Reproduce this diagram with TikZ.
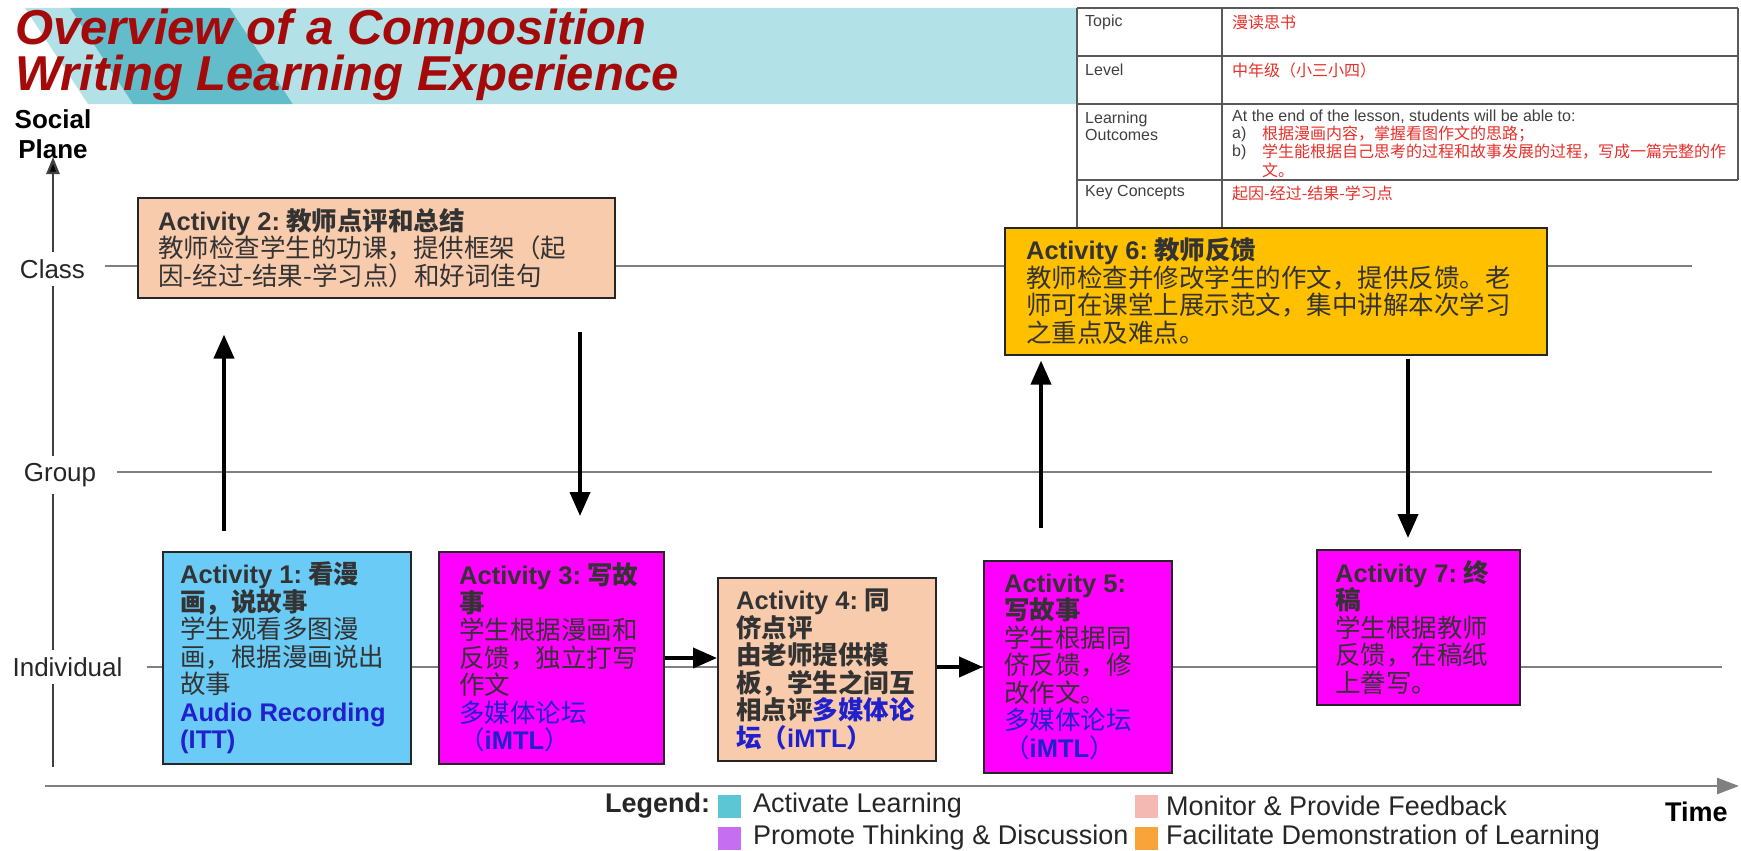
\documentclass[tikz,border=0pt]{standalone}
\usepackage{fontspec}
\usepackage{graphicx}
\setmainfont{Liberation Sans}
\newfontfamily\cjk{Noto Sans CJK SC}
\usetikzlibrary{arrows.meta}
\newcommand\zh[1]{{\cjk #1}}
\definecolor{peach}{HTML}{F8CBAD}
\definecolor{amber}{HTML}{FFC000}
\definecolor{skyb}{HTML}{6ACBF7}
\definecolor{mag}{HTML}{FF00FF}
\definecolor{linkblue}{HTML}{2020CC}
\definecolor{titlered}{HTML}{A50A0A}
\definecolor{tabred}{HTML}{E8302A}
\definecolor{bandlight}{HTML}{B2E2E8}
\definecolor{banddark}{HTML}{62BCC9}
\definecolor{lgcyan}{HTML}{5CC6D4}
\definecolor{lgpink}{HTML}{F4B9B2}
\definecolor{lgpurple}{HTML}{C56EF2}
\definecolor{lgorange}{HTML}{F9A43B}
\begin{document}
\begin{tikzpicture}[x=1pt,y=-1pt,
  actbox/.style={draw=black!85, line width=1.6pt, anchor=north west, inner sep=0pt},
  acttxt/.style={anchor=west, align=left, inner sep=0pt,
    font=\fontsize{25.5}{27.5}\selectfont, text=black!80},
  arr/.style={line width=4pt, -{Triangle[length=24pt,width=20pt]}},
  level/.style={draw=black!50, line width=1.8pt},
  axlabel/.style={font=\fontsize{26}{30}\selectfont, text=black!85, fill=white, inner xsep=2pt, inner ysep=7pt},
  tabline/.style={draw=black!65, line width=1.2pt},
  tabtxt/.style={anchor=west, inner sep=0pt, font=\fontsize{16}{17.5}\selectfont, text=black!75, align=left},
  tabzh/.style={anchor=west, inner sep=0pt, font=\fontsize{16}{17.5}\selectfont\cjk, text=tabred},
  lgsq/.style={minimum width=23pt, minimum height=23pt, inner sep=0pt},
  lgtxt/.style={anchor=west, inner sep=0pt, font=\fontsize{27}{30}\selectfont, text=black!85},
  titletxt/.style={anchor=base west, inner sep=0pt, font=\fontsize{49}{55}\selectfont\bfseries\itshape, text=titlered}
]
\useasboundingbox (0,0) rectangle (1741,851);
\fill[white] (0,0) rectangle (1741,851);

% banner
\fill[bandlight] (25,8) -- (70,8) -- (133,104) -- (88,104) -- cycle;
\fill[banddark] (70,8) -- (230,8) -- (293,104) -- (133,104) -- cycle;
\fill[bandlight] (230,8) -- (1077,8) -- (1077,104) -- (293,104) -- cycle;
\node[titletxt] (t1) at (15,45) {Overview of a Composition};
\node[titletxt] (t2) at (15,91) {Writing Learning Experience};

% table
\draw[tabline] (1077,8) -- (1738,8);
\draw[tabline] (1077,56) -- (1738,56);
\draw[tabline] (1077,104) -- (1738,104);
\draw[tabline] (1077,180) -- (1738,180);
\draw[tabline] (1077,8) -- (1077,228);
\draw[tabline] (1222,8) -- (1222,228);
\draw[tabline] (1738,8) -- (1738,180);
\node[tabtxt] (tk1) at (1085,22) {Topic};
\node[tabzh] (tv1) at (1232,22) {漫读思书};
\node[tabtxt] (tk2) at (1085,70) {Level};
\node[tabzh] (tv2) at (1232,70) {中年级（小三小四）};
\node[tabtxt] (tk3) at (1085,126.5) {Learning\\Outcomes};
\node[tabtxt] (tv3) at (1232,117) {At the end of the lesson, students will be able to:};
\node[tabtxt] (tv3a) at (1232,134) {a)};
\node[tabzh] (tv3az) at (1262,134) {根据漫画内容，掌握看图作文的思路；};
\node[tabtxt] (tv3b) at (1232,152) {b)};
\node[tabzh] (tv3bz) at (1262,152) {学生能根据自己思考的过程和故事发展的过程，写成一篇完整的作};
\node[tabzh] (tv3bz2) at (1262,170) {文。};
\node[tabtxt] (tk4) at (1085,193) {Key Concepts};
\node[tabzh] (tv4) at (1232,193) {起因-经过-结果-学习点};

% social plane axis
\node[align=center, inner sep=0pt, font=\fontsize{26}{30}\selectfont\bfseries] (sp) at (53,134) {Social\\Plane};
\coordinate (axbot) at (53,767);
\coordinate (axtop) at (53,157);
\draw[draw=black!75, line width=2.5pt, -{Triangle[length=17pt,width=13pt,fill=black]}] (axbot) -- (axtop);
\coordinate (tl) at (45,786);
\coordinate (tr) at (1739,786);
\draw[draw=black!50, line width=2.5pt, -{Triangle[length=22pt,width=16pt]}] (tl) -- (tr);
\node[anchor=west, inner sep=0pt, font=\fontsize{27}{30}\selectfont\bfseries] (time) at (1665,812) {Time};

% levels
\node[axlabel] (lclass) at (52.5,269) {Class};
\node[axlabel] (lgroup) at (60,475) {Group};
\node[axlabel] (lind) at (67.5,667) {Individual};
\coordinate (cend) at (1692,266);
\coordinate (gend) at (1712,472);
\coordinate (iend) at (1722,667);
\draw[level] ([xshift=18pt]lclass.east |- cend) -- (cend);
\draw[level] ([xshift=19pt]lgroup.east |- gend) -- (gend);
\draw[level] ([xshift=22pt]lind.east |- iend) -- (iend);

% activities
\node[actbox, fill=peach, minimum width=477pt, minimum height=100pt] (a2) at (137,197) {};
\node[acttxt] (a2t) at ([xshift=21pt]a2.west)
{\textbf{Activity 2:\hspace{6pt}\zh{教师点评和总结}}\\
\zh{教师检查学生的功课，提供框架（起}\\
\zh{因-经过-结果-学习点）和好词佳句}};

\node[actbox, fill=amber, minimum width=542pt, minimum height=127pt] (a6) at (1004,227) {};
\node[acttxt] (a6t) at ([xshift=22pt]a6.west)
{\textbf{Activity 6:\hspace{6pt}\zh{教师反馈}}\\
\zh{教师检查并修改学生的作文，提供反馈。老}\\
\zh{师可在课堂上展示范文，集中讲解本次学习}\\
\zh{之重点及难点。}};

\node[actbox, fill=skyb, minimum width=248pt, minimum height=212pt] (a1) at (162,551) {};
\node[acttxt] (a1t) at ([xshift=18pt]a1.west)
{\textbf{Activity 1:\hspace{6pt}\zh{看漫}}\\
\textbf{\zh{画，说故事}}\\
\zh{学生观看多图漫}\\
\zh{画，根据漫画说出}\\
\zh{故事}\\
\textcolor{linkblue}{\textbf{Audio Recording}}\\
\textcolor{linkblue}{\textbf{(ITT)}}};

\node[actbox, fill=mag, minimum width=225pt, minimum height=212pt] (a3) at (438,551) {};
\node[acttxt] (a3t) at ([xshift=21pt]a3.west)
{\textbf{Activity 3:\hspace{6pt}\zh{写故}}\\
\textbf{\zh{事}}\\
\zh{学生根据漫画和}\\
\zh{反馈，独立打写}\\
\zh{作文}\\
\textcolor{linkblue}{\zh{多媒体论坛}}\\
\textcolor{linkblue}{\zh{（}\textbf{iMTL}\zh{）}}};

\node[actbox, fill=peach, minimum width=218pt, minimum height=183pt] (a4) at (717,577) {};
\node[acttxt] (a4t) at ([xshift=19pt]a4.west)
{\textbf{Activity 4:\hspace{6pt}\zh{同}}\\
\textbf{\zh{侪点评}}\\
\textbf{\zh{由老师提供模}}\\
\textbf{\zh{板，学生之间互}}\\
\textbf{\zh{相点评}\textcolor{linkblue}{\zh{多媒体论}}}\\
\textcolor{linkblue}{\textbf{\zh{坛（}iMTL\zh{）}}}};

\node[actbox, fill=mag, minimum width=188pt, minimum height=212pt] (a5) at (983,560) {};
\node[acttxt] (a5t) at ([xshift=21pt]a5.west)
{\textbf{Activity 5:}\\
\textbf{\zh{写故事}}\\
\zh{学生根据同}\\
\zh{侪反馈，修}\\
\zh{改作文。}\\
\textcolor{linkblue}{\zh{多媒体论坛}}\\
\textcolor{linkblue}{\zh{（}\textbf{iMTL}\zh{）}}};

\node[actbox, fill=mag, minimum width=203pt, minimum height=155pt] (a7) at (1316,549) {};
\node[acttxt] (a7t) at ([xshift=19pt]a7.west)
{\textbf{Activity 7:\hspace{6pt}\zh{终}}\\
\textbf{\zh{稿}}\\
\zh{学生根据教师}\\
\zh{反馈，在稿纸}\\
\zh{上誊写。}};

% arrows
\coordinate (x12) at (224,0);
\coordinate (x23) at (580,0);
\coordinate (y34) at (0,658);
\coordinate (y45) at (0,667);
\coordinate (x56) at (1041,0);
\coordinate (x67) at (1408,0);
\draw[arr, shorten <=20pt, shorten >=36pt] (a1.north -| x12) -- (a2.south -| x12);
\draw[arr, shorten <=33pt, shorten >=35pt] (a2.south -| x23) -- (a3.north -| x23);
\draw[arr] (a3.east |- y34) -- (a4.west |- y34);
\draw[arr] (a4.east |- y45) -- (a5.west |- y45);
\draw[arr, shorten <=32pt, shorten >=5pt] (a5.north -| x56) -- (a6.south -| x56);
\draw[arr, shorten <=3pt, shorten >=11pt] (a6.south -| x67) -- (a7.north -| x67);

% legend
\node[anchor=west, inner sep=0pt, font=\fontsize{27}{30}\selectfont\bfseries, text=black!85] (lg) at (605,806) {Legend:};
\node[lgsq, fill=lgcyan] (sq1) at (729,806) {};
\node[lgtxt] (lg1) at (753,806) {Activate Learning};
\node[lgsq, fill=lgpink] (sq2) at (1146,806) {};
\node[lgtxt] (lg2) at (1166,806) {Monitor \& Provide Feedback};
\node[lgsq, fill=lgpurple] (sq3) at (729,838) {};
\node[lgtxt] (lg3) at (753,838) {Promote Thinking \& Discussion};
\node[lgsq, fill=lgorange] (sq4) at (1146,838) {};
\node[lgtxt] (lg4) at (1166,838) {Facilitate Demonstration of Learning};
\end{tikzpicture}
\end{document}
